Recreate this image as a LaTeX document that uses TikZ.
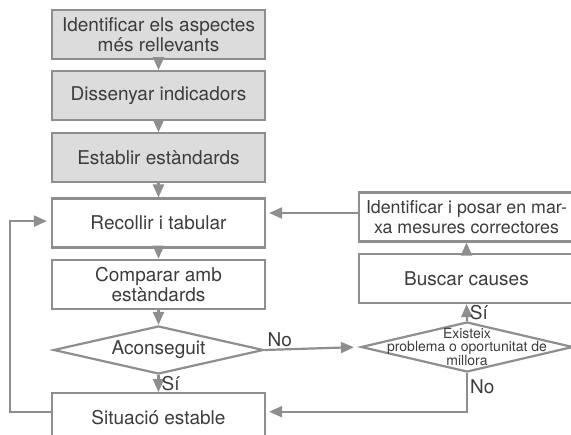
\documentclass[tikz,border=0pt]{standalone}
\usepackage{fontspec}
\setmainfont{TeX Gyre Heros}
\usepackage{tikz}
\usetikzlibrary{shapes.geometric,arrows.meta,calc,positioning}
\definecolor{linegray}{HTML}{8E8E90}
\definecolor{boxgray}{HTML}{DCDCDC}
\definecolor{txtgray}{HTML}{3C3C3C}
\tikzstyle{procb}=[rectangle, draw=linegray, line width=2.2pt, minimum width=213pt, minimum height=49pt, inner sep=0pt, align=center, text=txtgray, font=\fontsize{19}{19.5}\selectfont]
\tikzstyle{startb}=[procb, fill=boxgray]
\tikzstyle{decis}=[diamond, draw=linegray, line width=2.2pt, aspect=4.3, minimum width=210pt, minimum height=48pt, inner sep=0pt, text=txtgray, font=\fontsize{19}{19.5}\selectfont]
\tikzstyle{flow}=[draw=linegray, line width=2.2pt, -{Triangle[length=13pt,width=11pt]}]
\tikzstyle{lbl}=[text=txtgray, inner sep=2pt, font=\fontsize{19}{19.5}\selectfont]

\begin{document}
\begin{tikzpicture}[x=1pt,y=-1pt,node distance=10pt and 10pt]
	\useasboundingbox (0,0) rectangle (571,435);
	\clip (0,0) rectangle (571,435);

	\node[startb] (aspec) at (158.5,34.5) {Identificar els aspectes\\més rellevants};
	\node[startb,below=of aspec] (indic) {Dissenyar indicadors};
	\node[startb,below=11pt of indic] (estan) {Establir estàndards};
	\node[procb,below=14pt of estan] (recol) {Recollir i tabular};
	\node[procb,below=of recol] (compa) {Comparar amb\\estàndards};
	\node[decis,below=15pt of compa] (acons) {Aconseguit};
	\node[procb,below=17pt of acons] (situa) {Situació estable};

	\node[decis,minimum width=212pt,minimum height=50pt,
		label={[lbl,font=\fontsize{14}{12.5}\selectfont,align=center]center:Existeix\\problema o oportunitat de\\millora}]
		(exist) at (467,347) {};
	\node[procb,minimum width=215pt] (causa) at (466.5,278.5) {Buscar causes};
	\node[procb,minimum width=215pt,font=\fontsize{17.8}{19.5}\selectfont] (mesur) at (466.5,217) {Identificar i posar en mar-\\xa mesures correctores};

	\coordinate (loopx) at (10,0);

	\draw[flow] (aspec) -- (indic);
	\draw[flow] (indic) -- (estan);
	\draw[flow] (estan) -- (recol);
	\draw[flow] (recol) -- (compa);
	\draw[flow] (compa) -- (acons);
	\draw[flow] (acons.south) -- node[lbl,right] {Sí} (situa.north);
	\draw[flow,shorten >=6pt] (acons.east) -- node[lbl,pos=0,above right] {No} (exist.west);
	\draw[flow] (exist.north) -- node[lbl,right] {Sí} (causa.south);
	\draw[flow] (causa) -- (mesur);
	\draw[flow,shorten >=3pt] ([yshift=4pt]mesur.west) -- ([yshift=4pt]mesur.west -| recol.east);
	\draw[flow,shorten >=3pt] (exist.south) |- node[lbl,pos=0.18,right] {No} ([yshift=6pt]situa.east);
	\draw[flow,shorten >=4pt] ([yshift=6pt]situa.west) -| ([yshift=2pt]loopx |- recol.west) -- ([yshift=2pt]recol.west);
\end{tikzpicture}
\end{document}
